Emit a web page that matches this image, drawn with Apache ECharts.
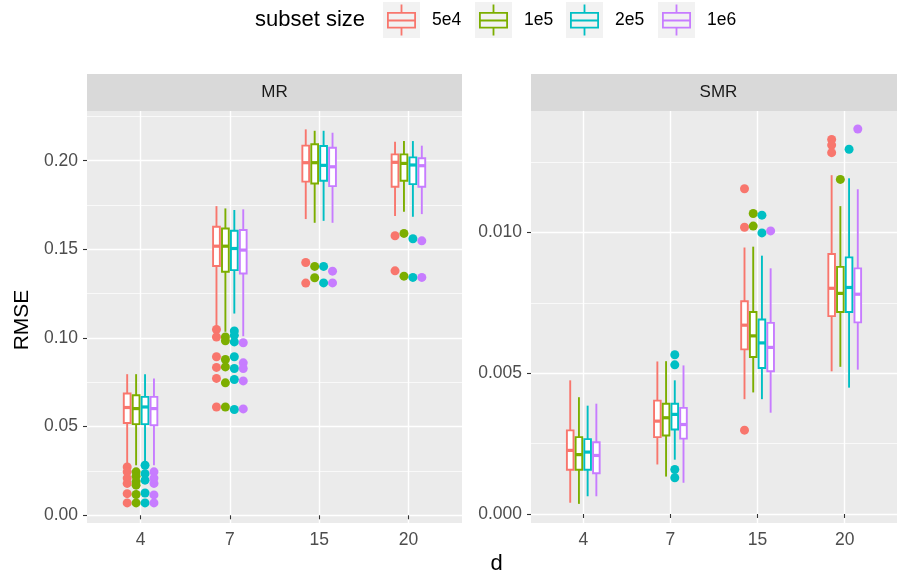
<!DOCTYPE html>
<html>
<head>
<meta charset="utf-8">
<script src="https://cdn.jsdelivr.net/npm/echarts@6/dist/echarts.min.js"></script>
<style>
  html, body { margin: 0; padding: 0; background: #fff; }
  #chart { width: 897px; height: 577px; }
</style>
</head>
<body>
<div id="chart"></div>
<script>
// categories and groups
var dLabels = ['4', '7', '15', '20'];
var sizes = ['5e4', '1e5', '2e5', '1e6'];
var colors = ['#F8766D', '#7CAE00', '#00BFC4', '#C77CFF'];
var panels = ['MR', 'SMR'];

// box stats per d: [lower whisker, q1, median, q3, upper whisker]
var mrBox5e4 = [[0.0290, 0.0521, 0.0608, 0.0687, 0.0796], [0.1063, 0.1406, 0.1518, 0.1628, 0.1744], [0.1671, 0.1882, 0.1989, 0.2085, 0.2177], [0.1688, 0.1853, 0.1991, 0.2036, 0.2107]];
var mrBox1e5 = [[0.0282, 0.0514, 0.0602, 0.0677, 0.0796], [0.1035, 0.1374, 0.1518, 0.1618, 0.1731], [0.1650, 0.1872, 0.1989, 0.2093, 0.2169], [0.1712, 0.1887, 0.1985, 0.2036, 0.2111]];
var mrBox2e5 = [[0.0300, 0.0514, 0.0611, 0.0668, 0.0796], [0.1138, 0.1383, 0.1505, 0.1605, 0.1722], [0.1661, 0.1887, 0.1974, 0.2083, 0.2169], [0.1684, 0.1868, 0.1976, 0.2019, 0.2111]];
var mrBox1e6 = [[0.0282, 0.0508, 0.0602, 0.0668, 0.0771], [0.1010, 0.1364, 0.1496, 0.1609, 0.1726], [0.1650, 0.1857, 0.1966, 0.2073, 0.2158], [0.1699, 0.1853, 0.1972, 0.2014, 0.2085]];

var smrBox5e4 = [[0.00040, 0.00157, 0.00226, 0.00297, 0.00475], [0.00176, 0.00273, 0.00330, 0.00403, 0.00542], [0.00408, 0.00585, 0.00671, 0.00756, 0.00947], [0.00507, 0.00703, 0.00802, 0.00924, 0.01204]];
var smrBox1e5 = [[0.00036, 0.00157, 0.00211, 0.00273, 0.00415], [0.00133, 0.00279, 0.00342, 0.00392, 0.00543], [0.00432, 0.00558, 0.00633, 0.00718, 0.00950], [0.00523, 0.00718, 0.00784, 0.00878, 0.01094]];
var smrBox2e5 = [[0.00063, 0.00157, 0.00220, 0.00266, 0.00385], [0.00193, 0.00300, 0.00354, 0.00392, 0.00475], [0.00408, 0.00519, 0.00608, 0.00691, 0.00918], [0.00449, 0.00718, 0.00805, 0.00912, 0.01193]];
var smrBox1e6 = [[0.00063, 0.00145, 0.00208, 0.00255, 0.00392], [0.00111, 0.00268, 0.00318, 0.00377, 0.00528], [0.00360, 0.00507, 0.00592, 0.00679, 0.00873], [0.00513, 0.00681, 0.00781, 0.00873, 0.01154]];

// outliers per d
var mrOut5e4 = [[0.0273, 0.0245, 0.021, 0.018, 0.0122, 0.007], [0.1048, 0.1006, 0.0894, 0.0834, 0.0772, 0.0611], [0.1426, 0.1310], [0.1577, 0.1379]];
var mrOut1e5 = [[0.0245, 0.022, 0.019, 0.017, 0.0117, 0.007], [0.1006, 0.0984, 0.0879, 0.0837, 0.0747, 0.0611], [0.1404, 0.1340], [0.1590, 0.1349]];
var mrOut2e5 = [[0.0282, 0.0235, 0.0198, 0.0126, 0.007], [0.1040, 0.1015, 0.0978, 0.0894, 0.0828, 0.0766, 0.0597], [0.1404, 0.1311], [0.1560, 0.1342]];
var mrOut1e6 = [[0.0245, 0.021, 0.018, 0.0115, 0.007], [0.0973, 0.0860, 0.0828, 0.0758, 0.0600], [0.1377, 0.1311], [0.1548, 0.1342]];

var smrOut5e4 = [[], [], [0.01156, 0.01019, 0.00298], [0.01331, 0.01311, 0.01284]];
var smrOut1e5 = [[], [], [0.01068, 0.01023], [0.01189]];
var smrOut2e5 = [[], [0.00566, 0.00530, 0.00158, 0.00129], [0.01062, 0.00999], [0.01296]];
var smrOut1e6 = [[], [], [0.01006], [0.01368]];

// tick labels
var mrTicks = [0, 0.05, 0.10, 0.15, 0.20];
var mrMinor = [0.025, 0.075, 0.125, 0.175, 0.225];
var smrTicks = [0, 0.005, 0.010];
var smrMinor = [0.0025, 0.0075, 0.0125];

var boxes = [[mrBox5e4, mrBox1e5, mrBox2e5, mrBox1e6], [smrBox5e4, smrBox1e5, smrBox2e5, smrBox1e6]];
var outs = [[mrOut5e4, mrOut1e5, mrOut2e5, mrOut1e6], [smrOut5e4, smrOut1e5, smrOut2e5, smrOut1e6]];
var yRange = [[-0.00435, 0.22806], [-0.00032, 0.014321]];
var yTicks = [mrTicks, smrTicks];
var yMinor = [mrMinor, smrMinor];
var yDigits = [2, 3];

var FONT = '"Liberation Sans", Arial, Helvetica, sans-serif';
var DODGE = 0.1;
var HALF = 0.038;
var gridLeft = [87, 531];
var PANEL_W = 375;
var PANEL_TOP = 111;
var PANEL_H = 412;

var chart = echarts.init(document.getElementById('chart'));

function renderBox(off) {
  return function (params, api) {
    var x = api.value(0) + off;
    var lo = api.coord([x, api.value(1)]);
    var q1 = api.coord([x, api.value(2)]);
    var md = api.coord([x, api.value(3)]);
    var q3 = api.coord([x, api.value(4)]);
    var hi = api.coord([x, api.value(5)]);
    var l = api.coord([x - HALF, api.value(3)])[0];
    var r = api.coord([x + HALF, api.value(3)])[0];
    var c = api.visual('color');
    return {
      type: 'group',
      children: [
        { type: 'line', shape: { x1: lo[0], y1: lo[1], x2: q1[0], y2: q1[1] }, style: { stroke: c, lineWidth: 1.9 } },
        { type: 'line', shape: { x1: q3[0], y1: q3[1], x2: hi[0], y2: hi[1] }, style: { stroke: c, lineWidth: 1.9 } },
        { type: 'rect', shape: { x: l, y: q3[1], width: r - l, height: q1[1] - q3[1] }, style: { fill: '#fff', stroke: c, lineWidth: 1.9 } },
        { type: 'line', shape: { x1: l, y1: md[1], x2: r, y2: md[1] }, style: { stroke: c, lineWidth: 3.2 } }
      ]
    };
  };
}

var grids = [], xAxes = [], yAxes = [], series = [];
for (var p = 0; p < 2; p++) {
  grids.push({ left: gridLeft[p], top: PANEL_TOP, width: PANEL_W, height: PANEL_H, show: true, backgroundColor: '#EBEBEB', borderWidth: 0 });
  xAxes.push({
    type: 'value', gridIndex: p, min: 0.4, max: 4.6,
    axisLine: { show: false },
    axisTick: { customValues: [1, 2, 3, 4], length: 4, lineStyle: { color: '#333333', width: 1.1 } },
    axisLabel: { customValues: [1, 2, 3, 4], margin: 8, fontSize: 17.5, color: '#4D4D4D', fontFamily: FONT,
      formatter: function (v) { return dLabels[Math.round(v) - 1]; } },
    splitLine: { show: true, lineStyle: { color: '#FFFFFF', width: 1.4 } }
  });
  (function (pp) {
    yAxes.push({
      type: 'value', gridIndex: pp, min: yRange[pp][0], max: yRange[pp][1], position: 'left',
      axisLine: { show: false },
      axisTick: { customValues: yTicks[pp], length: 4, lineStyle: { color: '#333333', width: 1.1 } },
      axisLabel: { customValues: yTicks[pp], margin: 9, fontSize: 17.5, color: '#4D4D4D', fontFamily: FONT,
        formatter: function (v) { return v.toFixed(yDigits[pp]); } },
      splitLine: { show: true, lineStyle: { color: '#FFFFFF', width: 1.4 } }
    });
  })(p);
  yAxes.push({
    type: 'value', gridIndex: p, min: yRange[p][0], max: yRange[p][1], position: 'left',
    axisLine: { show: false },
    axisTick: { show: false, customValues: yMinor[p] },
    axisLabel: { show: false, customValues: yMinor[p] },
    splitLine: { show: true, lineStyle: { color: '#FFFFFF', width: 0.7 } }
  });

  for (var s = 0; s < 4; s++) {
    var off = (s - 1.5) * DODGE;
    var rows = boxes[p][s].map(function (b, i) { return [i + 1].concat(b); });
    series.push({
      type: 'custom', name: sizes[s], xAxisIndex: p, yAxisIndex: 2 * p,
      itemStyle: { color: colors[s] },
      renderItem: renderBox(off),
      encode: { x: 0, y: [1, 2, 3, 4, 5] },
      data: rows, z: 2, silent: true
    });
    var pts = [];
    outs[p][s].forEach(function (vals, i) {
      vals.forEach(function (v) { pts.push([i + 1 + off, v]); });
    });
    series.push({
      type: 'scatter', name: sizes[s], xAxisIndex: p, yAxisIndex: 2 * p,
      symbolSize: 9, itemStyle: { color: colors[s], opacity: 1 },
      data: pts, z: 3, silent: true
    });
  }
}

// boxplot glyph for the legend keys
var boxIcon = 'path://M0 7.5H29V24H0Z M1.8 9.3V15H27.2V9.3Z M1.8 17V22.2H27.2V17Z M13.6 0H15.4V7.5H13.6Z M13.6 24H15.4V31H13.6Z';
var keyX = [383, 475, 566, 658];
var legends = sizes.map(function (name, i) {
  return {
    left: keyX[i] + 4, top: 4.5, padding: 0, orient: 'horizontal',
    itemWidth: 29, itemHeight: 31, selectedMode: false,
    itemStyle: { borderWidth: 0 },
    textStyle: { fontSize: 17.5, color: '#000000', fontFamily: FONT, padding: [0, 0, 0, 11] },
    data: [{ name: name, icon: boxIcon }]
  };
});

var graphics = [];
keyX.forEach(function (x) {
  graphics.push({ type: 'rect', shape: { x: x, y: 2, width: 37, height: 36 }, style: { fill: '#F2F2F2' }, z: 0 });
});
graphics.push({ type: 'text', x: 255, y: 20, style: { text: 'subset size', fontSize: 22, fontFamily: FONT, fill: '#000000', verticalAlign: 'middle' } });
for (var k = 0; k < 2; k++) {
  graphics.push({ type: 'rect', shape: { x: gridLeft[k], y: 74, width: PANEL_W, height: 37 }, style: { fill: '#D9D9D9' } });
  graphics.push({ type: 'text', x: gridLeft[k] + PANEL_W / 2, y: 92.5, style: { text: panels[k], fontSize: 17, fontFamily: FONT, fill: '#1A1A1A', align: 'center', verticalAlign: 'middle' } });
}
graphics.push({ type: 'text', x: 22, y: 320, rotation: Math.PI / 2, style: { text: 'RMSE', fontSize: 21, fontFamily: FONT, fill: '#000000', align: 'center', verticalAlign: 'middle' } });
graphics.push({ type: 'text', x: 496.5, y: 564, style: { text: 'd', fontSize: 22, fontFamily: FONT, fill: '#000000', align: 'center', verticalAlign: 'middle' } });

chart.setOption({
  animation: false,
  backgroundColor: '#FFFFFF',
  grid: grids,
  xAxis: xAxes,
  yAxis: yAxes,
  legend: legends,
  graphic: graphics,
  series: series
});
</script>
</body>
</html>
